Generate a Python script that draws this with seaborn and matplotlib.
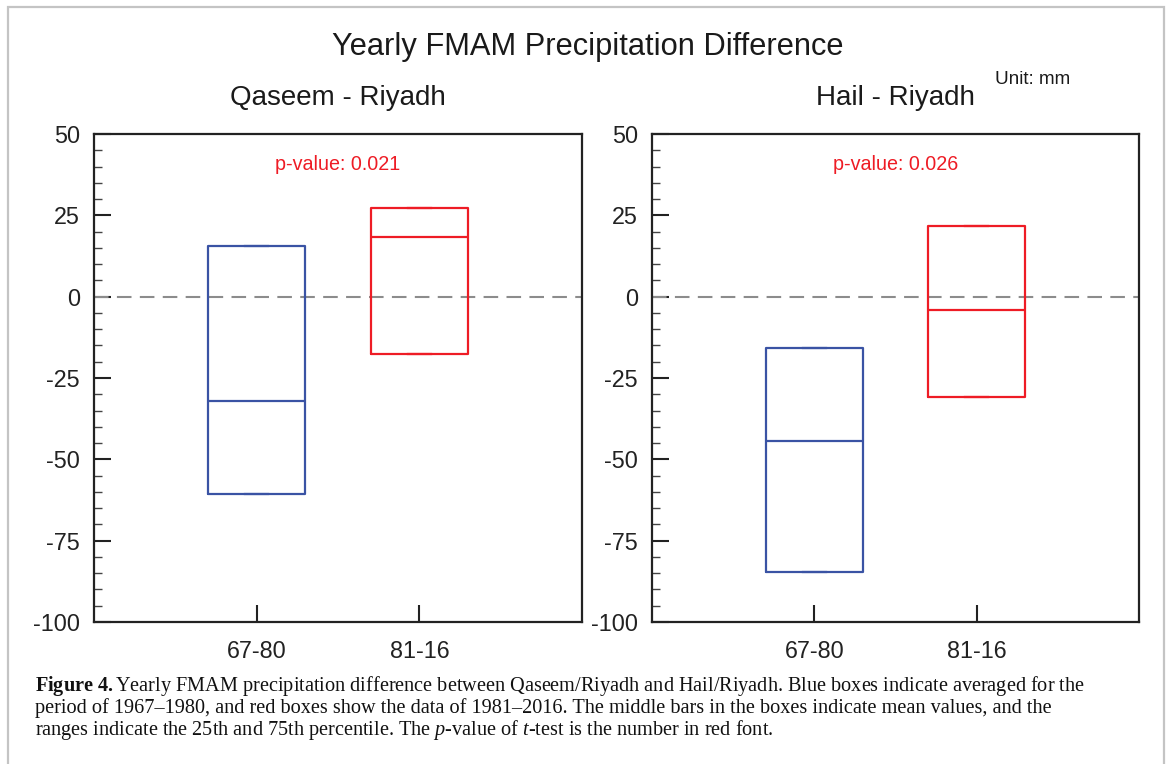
import matplotlib
matplotlib.use("Agg")
import matplotlib.pyplot as plt
from matplotlib.patches import Rectangle
from matplotlib.ticker import MultipleLocator
import seaborn as sns

# --- Data (unit: mm) ---
periods = ["67-80", "81-16"]
panels = ["Qaseem - Riyadh", "Hail - Riyadh"]
p_values = ["0.021", "0.026"]
q25_qaseem = [-60.7, -17.6]
mean_qaseem = [-32.1, 18.4]
q75_qaseem = [15.6, 27.3]
q25_hail = [-84.7, -30.8]
mean_hail = [-44.4, -4.1]
q75_hail = [-15.8, 21.7]
box_colors = ["#3a53a4", "#ee1c25"]

sns.set_theme(style="ticks")
plt.rcParams["font.family"] = ["Liberation Sans", "DejaVu Sans"]
plt.rcParams["axes.unicode_minus"] = False
plt.rcParams["mathtext.fontset"] = "custom"
plt.rcParams["mathtext.rm"] = "Liberation Serif"
plt.rcParams["mathtext.it"] = "Liberation Serif:italic"
plt.rcParams["mathtext.bf"] = "Liberation Serif:bold"

fig = plt.figure(figsize=(11.68, 7.64), dpi=100)
fig.patch.set_facecolor("white")

# light frame around the figure
fig.patches.append(Rectangle((8 / 1168, -0.05), 1156 / 1168, 0.05 + 757 / 764,
                             transform=fig.transFigure, fill=False,
                             edgecolor="#c4c4c4", linewidth=1.6))

axes = [fig.add_axes([94 / 1168, 1 - 622 / 764, 488 / 1168, 488 / 764]),
        fig.add_axes([652 / 1168, 1 - 622 / 764, 487 / 1168, 488 / 764])]

all_stats = [(q25_qaseem, mean_qaseem, q75_qaseem), (q25_hail, mean_hail, q75_hail)]

for ax, name, pv, (q25, mn, q75) in zip(axes, panels, p_values, all_stats):
    ax.axhline(0, color="#8c8c8c", linestyle=(0, (7, 4)), linewidth=1.5, zorder=1)

    # boxes span 25th-75th percentile, middle bar = mean
    for i in range(len(periods)):
        st = [{"q1": q25[i], "med": mn[i], "q3": q75[i],
               "whislo": q25[i], "whishi": q75[i], "fliers": []}]
        style = dict(color=box_colors[i], linewidth=1.6)
        ax.bxp(st, positions=[i], widths=0.6, capwidths=0.15,
               showfliers=False, boxprops=style, medianprops=style,
               whiskerprops=style, capprops=style, manage_ticks=False)

    ax.set_xlim(-1, 2)
    ax.set_ylim(-100, 50)
    ax.set_xticks(range(len(periods)))
    ax.set_xticklabels(periods)
    ax.yaxis.set_major_locator(MultipleLocator(25))
    ax.yaxis.set_minor_locator(MultipleLocator(5))
    ax.tick_params(axis="both", which="major", direction="in", length=12,
                   width=1.5, color="#222222", labelsize=16.8, pad=10,
                   labelcolor="#222222")
    ax.tick_params(axis="y", which="minor", direction="in", length=6,
                   width=1.0, color="#444444")
    ax.tick_params(axis="x", pad=13)
    for sp in ax.spines.values():
        sp.set_visible(True)
        sp.set_color("#222222")
        sp.set_linewidth(1.6)

    ax.set_title(name, fontsize=20, pad=21, color="#1a1a1a")
    ax.text(0.5, 40.5, f"p-value: {pv}", color=box_colors[1], fontsize=14.2,
            ha="center", va="center")
    ax.set_xlabel("")
    ax.set_ylabel("")

fig.text(0.503, 1 - 47 / 764, "Yearly FMAM Precipitation Difference",
         fontsize=22.2, ha="center", va="center", color="#1a1a1a")
fig.text(995 / 1168, 1 - 79 / 764, "Unit: mm", fontsize=13.6, ha="left",
         va="center", color="#1a1a1a")

caption = [
    r"$\mathbf{Figure\ 4.}$Yearly FMAM precipitation difference between Qaseem/Riyadh and Hail/Riyadh. Blue boxes indicate averaged for the",
    "period of 1967–1980, and red boxes show the data of 1981–2016. The middle bars in the boxes indicate mean values, and the",
    r"ranges indicate the 25th and 75th percentile. The $p$-value of $t$-test is the number in red font.",
]
for k, line in enumerate(caption):
    fig.text(35 / 1168, 1 - (686 + 22 * k) / 764, line, fontsize=14.6,
             family="Liberation Serif", ha="left", va="center", color="#111111")

fig.savefig("out.png", dpi=100, facecolor="white")
